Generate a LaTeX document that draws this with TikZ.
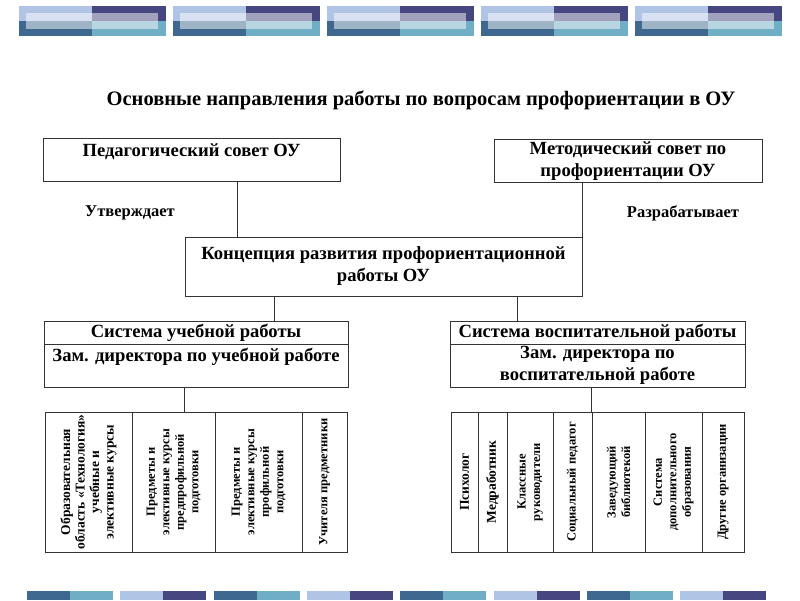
\documentclass[tikz,border=0pt]{standalone}
\usepackage{fontspec}
\setmainfont{Liberation Serif}
\usetikzlibrary{positioning}
\definecolor{tilelight}{HTML}{B0C4E6}
\definecolor{tilenavy}{HTML}{464680}
\definecolor{tilesteel}{HTML}{3F6890}
\definecolor{tileteal}{HTML}{70AEC6}
\definecolor{boxline}{HTML}{333333}

\tikzset{
  orgbox/.style={draw=boxline, line width=0.8pt, inner sep=0pt, align=center,
                 font=\bfseries\fontsize{18.6}{22}\selectfont},
  cellbox/.style={draw=boxline, line width=0.8pt, inner sep=0pt, rotate=90, align=center,
                  minimum width=140pt, font=\bfseries\fontsize{12.5}{14.5}\selectfont},
  bigcell/.style={font=\bfseries\fontsize{13.5}{14.5}\selectfont},
  link/.style={draw=boxline, line width=0.8pt},
  plainlabel/.style={font=\bfseries\fontsize{16.5}{19}\selectfont},
}

\begin{document}
\begin{tikzpicture}[x=1pt, y=-1pt]
    \fill[white] (0,0) rectangle (800,600);
    \useasboundingbox (0,0) rectangle (800,600);

    % header and footer tiles
    \foreach \tx in {19,173,327,481,635}{
      \fill[tilelight] (\tx,6) rectangle ++(73,15);
      \fill[tilenavy] (\tx+73,6) rectangle ++(74,15);
      \fill[tilesteel] (\tx,21) rectangle ++(73,15);
      \fill[tileteal] (\tx+73,21) rectangle ++(74,15);
      \fill[white, opacity=0.5] (\tx+7,13) rectangle ++(132,16);
    }
    \foreach \bx in {27,213.6,400.2,586.8}{
      \fill[tilesteel] (\bx,591) rectangle ++(43,9);
      \fill[tileteal] (\bx+43,591) rectangle ++(43,9);
    }
    \foreach \bx in {120.3,306.9,493.5,680.1}{
      \fill[tilelight] (\bx,591) rectangle ++(43,9);
      \fill[tilenavy] (\bx+43,591) rectangle ++(43,9);
    }

    \node[font=\bfseries\fontsize{20.5}{24}\selectfont] (title) at (421,100)
      {Основные направления работы по вопросам профориентации в ОУ};

    % councils and concept
    \node[orgbox, minimum width=297pt, minimum height=43pt] (ped) at (191.5,159.5)
      {Педагогический совет ОУ\\[-9pt]\strut};
    \node[orgbox, minimum width=268pt, minimum height=43pt] (metod) at (628,161)
      {Методический совет по\\профориентации ОУ};
    \node[plainlabel] (approve) at (130,213) {Утверждает};
    \node[plainlabel] (develop) at (683,213) {Разрабатывает};
    \node[orgbox, minimum width=397pt, minimum height=59pt] (conc) at (383.5,266.5)
      {Концепция развития профориентационной\\работы ОУ};

    % two systems
    \node[orgbox, minimum width=304pt, minimum height=23pt] (uchT) at (196,332.5)
      {Система учебной работы};
    \node[orgbox, minimum width=304pt, minimum height=43pt] (uchB) at (196,365.5)
      {Зам. директора по учебной работе\\[-7pt]\strut};
    \node[orgbox, minimum width=295pt, minimum height=23pt] (vospT) at (597.5,332.5)
      {Система воспитательной работы};
    \node[orgbox, minimum width=295pt, minimum height=43pt] (vospB) at (597.5,365.5)
      {Зам. директора по\\воспитательной работе};

    % cells of the teaching side
    \node[cellbox, bigcell, minimum height=87pt] (lc1) at (88.5,482)
      {Образовательная\\область «Технология»\\учебные и\\элективные курсы};
    \node[cellbox, minimum height=83pt] (lc2) at (173.5,482)
      {Предметы и\\элективные курсы\\предпрофильной\\подготовки};
    \node[cellbox, minimum height=87pt] (lc3) at (258.5,482)
      {Предметы и\\элективные курсы\\профильной\\подготовки};
    \node[cellbox, minimum height=45pt] (lc4) at (324.5,482) {Учителя предметники};

    % cells of the upbringing side
    \node[cellbox, bigcell, minimum height=27pt] (rc1) at (464.5,482) {Психолог};
    \node[cellbox, bigcell, minimum height=29pt] (rc2) at (492.5,482) {Медработник};
    \node[cellbox, minimum height=46pt] (rc3) at (530,482) {Классные\\руководители};
    \node[cellbox, minimum height=39pt] (rc4) at (572.5,482) {Социальный педагог};
    \node[cellbox, minimum height=53pt] (rc5) at (618.5,482) {Заведующий\\библиотекой};
    \node[cellbox, minimum height=57pt] (rc6) at (673.5,482)
      {Система\\дополнительного\\образования};
    \node[cellbox, minimum height=42pt] (rc7) at (723,482) {Другие организации};

    % connectors
    \draw[link] ([xshift=45.5pt]ped.south) -- ([xshift=45.5pt]ped.south |- conc.north);
    \draw[link] (conc.north east) -- (conc.north east |- metod.south);
    \draw[link] ([xshift=-109.5pt]conc.south) -- ([xshift=-109.5pt]conc.south |- uchT.north);
    \draw[link] ([xshift=133.5pt]conc.south) -- ([xshift=133.5pt]conc.south |- vospT.north);
    \draw[link] ([xshift=-12pt]uchB.south) -- ([xshift=-12pt]uchB.south |- lc2.east);
    \draw[link] ([xshift=-6.5pt]vospB.south) -- ([xshift=-6.5pt]vospB.south |- rc5.east);
  \end{tikzpicture}
\end{document}
